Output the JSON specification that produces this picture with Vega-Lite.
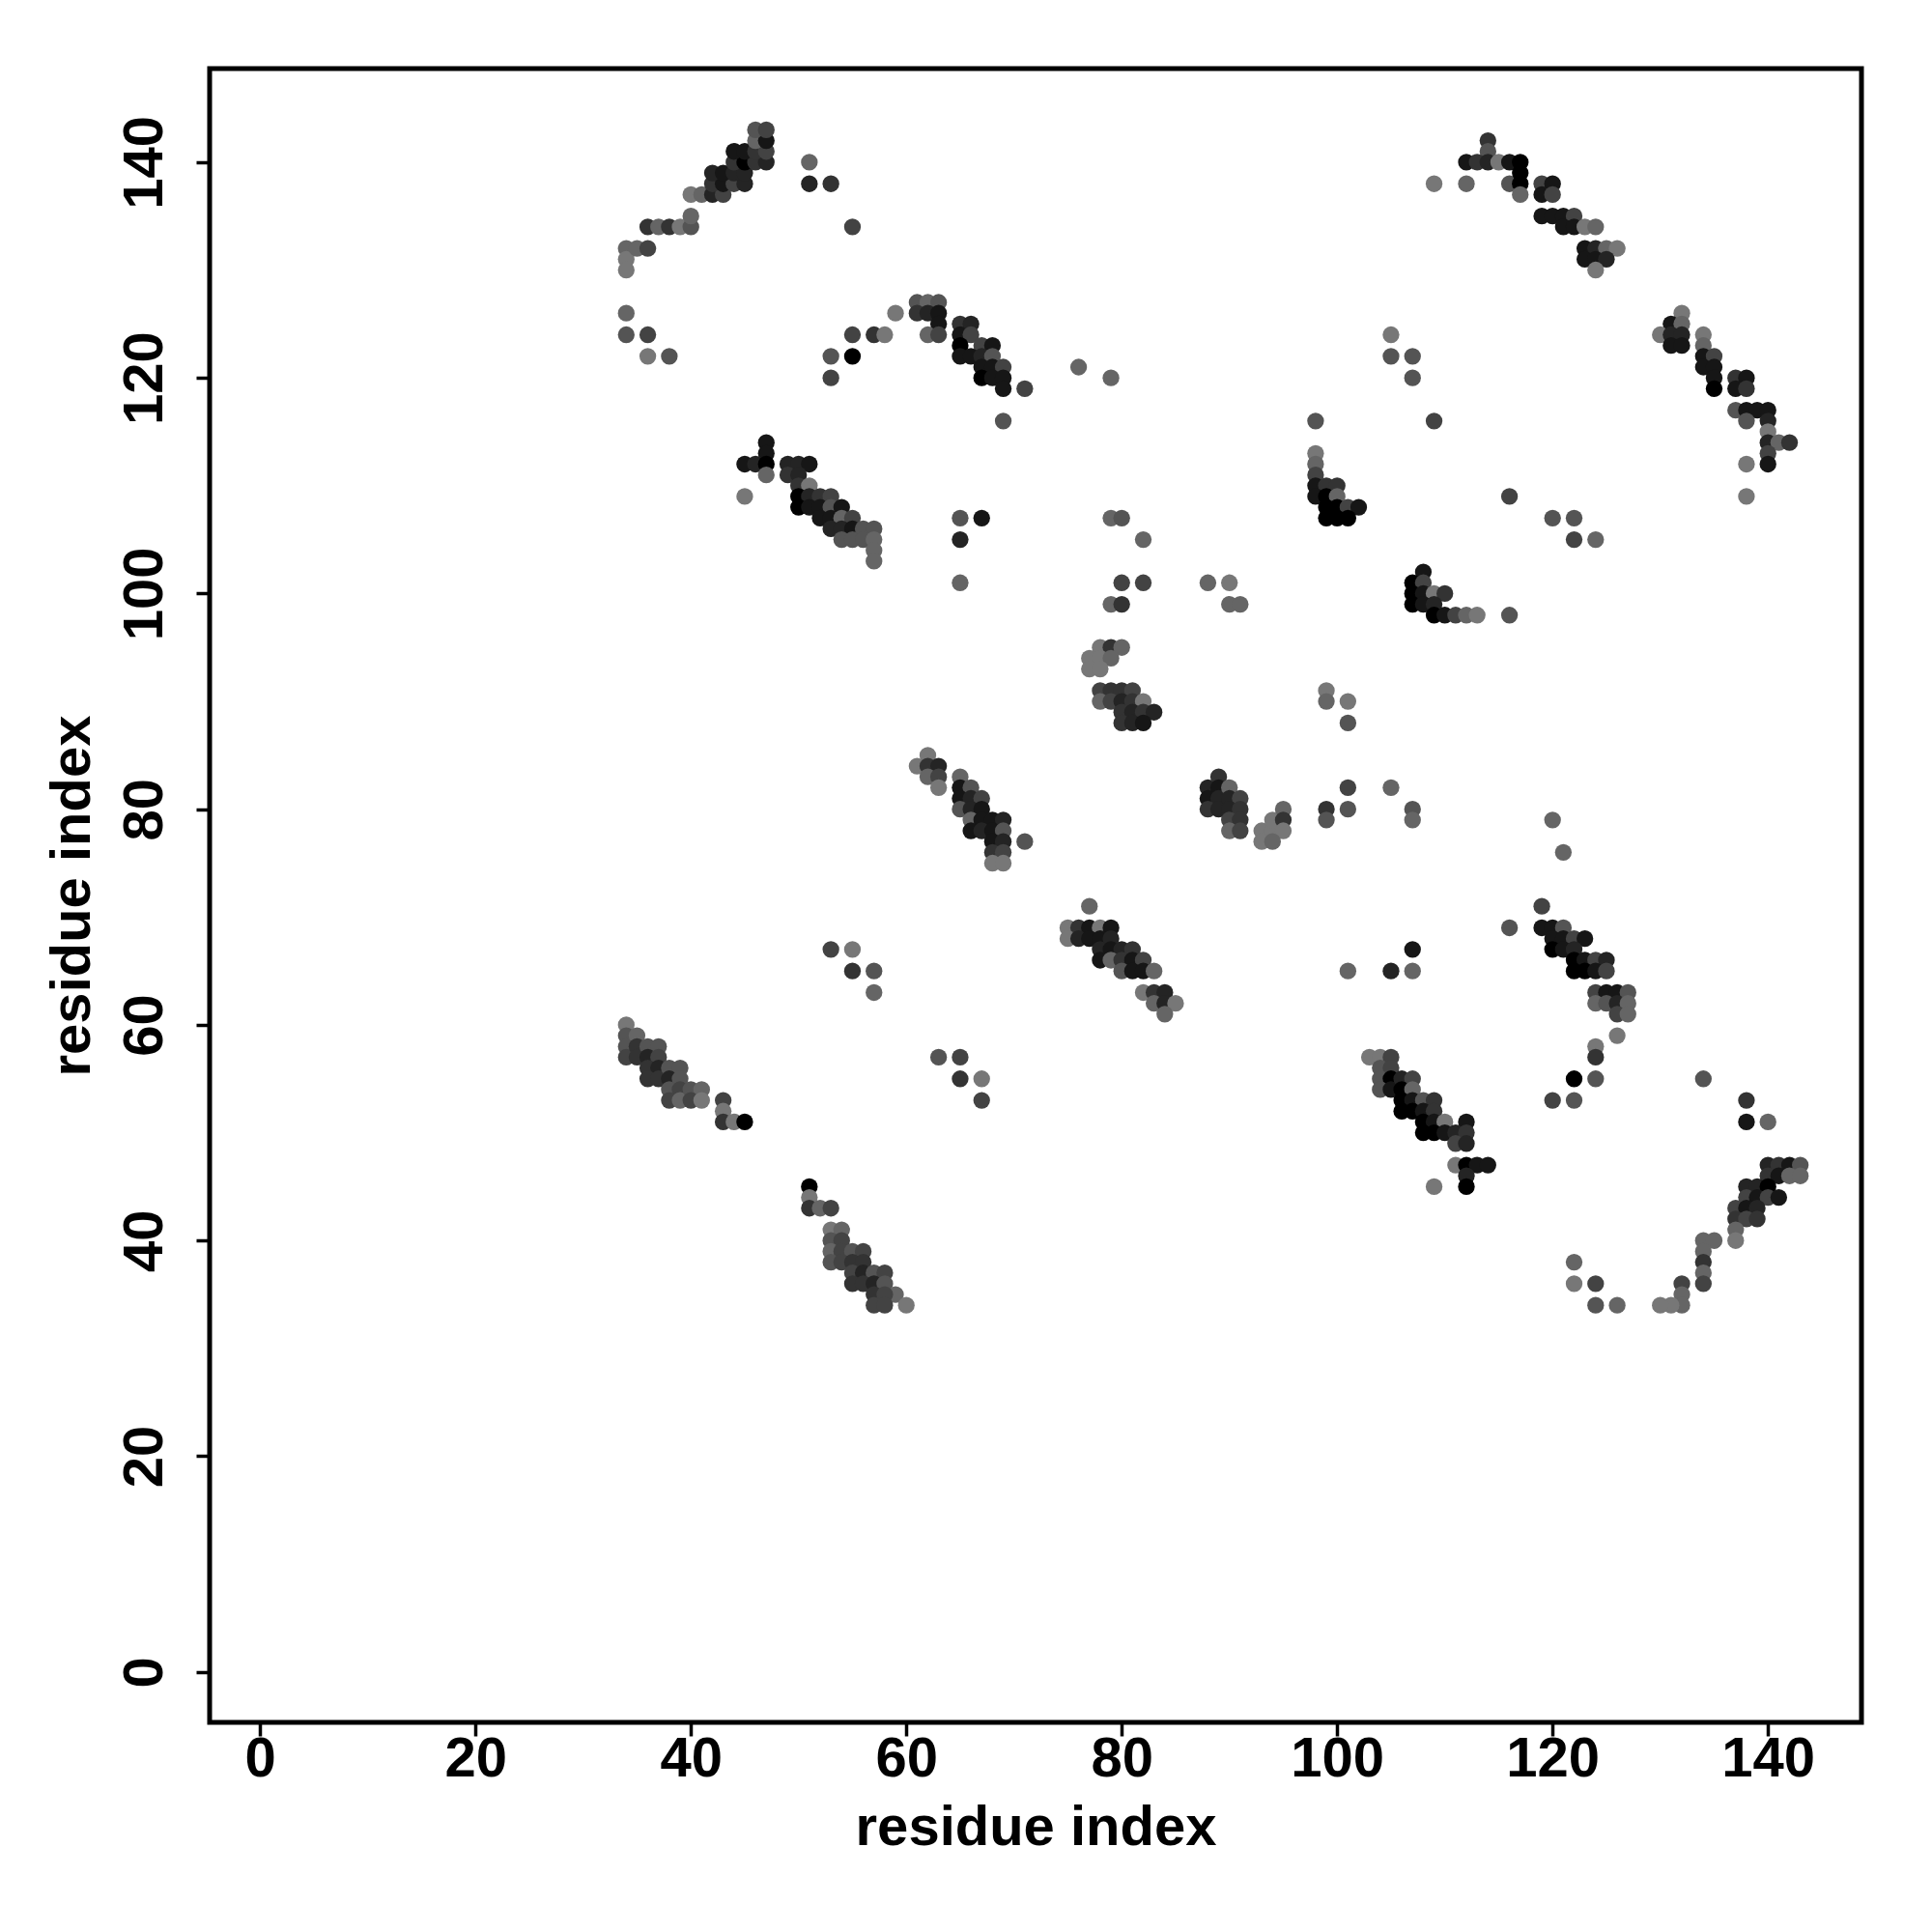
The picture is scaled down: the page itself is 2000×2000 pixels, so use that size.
{
"$schema": "https://vega.github.io/schema/vega-lite/v6.json",
"width": 1710, "height": 1712,
"autosize": "none",
"padding": {"left": 217, "top": 71, "right": 73, "bottom": 217},
"background": "white",
"config": {"view": {"stroke": "black", "strokeWidth": 5}},
"data": {"values": [
{"a":34,"b":132,"s":6},{"a":34,"b":131,"s":7},{"a":34,"b":130,"s":7},{"a":35,"b":132,"s":6},{"a":36,"b":132,"s":4},
{"a":36,"b":134,"s":3},{"a":37,"b":134,"s":6},{"a":38,"b":134,"s":3},{"a":39,"b":134,"s":7},{"a":40,"b":134,"s":5},{"a":40,"b":135,"s":6},
{"a":40,"b":137,"s":7},{"a":41,"b":137,"s":6},{"a":42,"b":137,"s":2},{"a":43,"b":137,"s":4},
{"a":42,"b":138,"s":3},{"a":43,"b":138,"s":1},{"a":44,"b":138,"s":4},{"a":45,"b":138,"s":2},
{"a":42,"b":139,"s":2},{"a":43,"b":139,"s":1},{"a":44,"b":139,"s":2},{"a":45,"b":139,"s":2},
{"a":44,"b":140,"s":3},{"a":45,"b":140,"s":0},{"a":46,"b":140,"s":3},{"a":47,"b":140,"s":2},
{"a":44,"b":141,"s":1},{"a":45,"b":141,"s":1},{"a":46,"b":141,"s":3},{"a":47,"b":141,"s":4},
{"a":46,"b":142,"s":6},{"a":47,"b":142,"s":1},{"a":46,"b":143,"s":5},{"a":47,"b":143,"s":4},
{"a":51,"b":140,"s":6},{"a":51,"b":138,"s":2},{"a":53,"b":138,"s":3},{"a":55,"b":134,"s":4},
{"a":34,"b":126,"s":6},{"a":34,"b":124,"s":5},{"a":36,"b":124,"s":4},{"a":36,"b":122,"s":7},{"a":38,"b":122,"s":5},
{"a":53,"b":122,"s":5},{"a":55,"b":122,"s":0},{"a":53,"b":120,"s":4},{"a":55,"b":124,"s":4},{"a":57,"b":124,"s":3},{"a":58,"b":124,"s":7},{"a":59,"b":126,"s":7},
{"a":61,"b":127,"s":5},{"a":62,"b":127,"s":6},{"a":63,"b":127,"s":5},{"a":61,"b":126,"s":3},{"a":62,"b":126,"s":2},{"a":63,"b":126,"s":1},{"a":63,"b":125,"s":1},{"a":62,"b":124,"s":6},{"a":63,"b":124,"s":4},
{"a":65,"b":125,"s":3},{"a":66,"b":125,"s":2},{"a":65,"b":124,"s":1},{"a":66,"b":124,"s":4},{"a":65,"b":123,"s":0},{"a":67,"b":123,"s":4},{"a":68,"b":123,"s":1},{"a":65,"b":122,"s":1},{"a":66,"b":122,"s":1},{"a":67,"b":122,"s":2},{"a":68,"b":122,"s":5},{"a":67,"b":121,"s":1},{"a":68,"b":121,"s":1},{"a":69,"b":121,"s":4},{"a":67,"b":120,"s":0},{"a":68,"b":120,"s":1},{"a":69,"b":120,"s":1},{"a":69,"b":119,"s":1},{"a":71,"b":119,"s":4},{"a":69,"b":116,"s":5},{"a":76,"b":121,"s":6},{"a":79,"b":120,"s":6},
{"a":47,"b":114,"s":1},{"a":47,"b":113,"s":1},{"a":45,"b":112,"s":1},{"a":46,"b":112,"s":2},{"a":47,"b":112,"s":0},{"a":47,"b":111,"s":6},{"a":45,"b":109,"s":7},
{"a":49,"b":112,"s":2},{"a":50,"b":112,"s":2},{"a":51,"b":112,"s":1},{"a":49,"b":111,"s":3},{"a":50,"b":111,"s":2},{"a":50,"b":110,"s":3},{"a":51,"b":110,"s":7},{"a":50,"b":109,"s":0},{"a":51,"b":109,"s":2},{"a":52,"b":109,"s":3},{"a":53,"b":109,"s":4},{"a":50,"b":108,"s":0},{"a":51,"b":108,"s":1},{"a":52,"b":108,"s":1},{"a":53,"b":108,"s":5},{"a":54,"b":108,"s":1},
{"a":52,"b":107,"s":1},{"a":53,"b":107,"s":1},{"a":54,"b":107,"s":6},{"a":55,"b":107,"s":4},{"a":53,"b":106,"s":2},{"a":54,"b":106,"s":2},{"a":55,"b":106,"s":1},{"a":56,"b":106,"s":5},{"a":57,"b":106,"s":5},{"a":54,"b":105,"s":5},{"a":55,"b":105,"s":5},{"a":56,"b":105,"s":5},{"a":57,"b":105,"s":6},{"a":57,"b":104,"s":6},{"a":57,"b":103,"s":6},
{"a":65,"b":107,"s":5},{"a":67,"b":107,"s":1},{"a":65,"b":105,"s":2},{"a":65,"b":101,"s":6},{"a":79,"b":107,"s":6},{"a":80,"b":107,"s":5},{"a":82,"b":105,"s":6},{"a":80,"b":101,"s":4},{"a":82,"b":101,"s":4},{"a":88,"b":101,"s":6},{"a":90,"b":101,"s":7},{"a":79,"b":99,"s":6},{"a":80,"b":99,"s":3},{"a":90,"b":99,"s":6},{"a":91,"b":99,"s":6},
{"a":78,"b":95,"s":7},{"a":79,"b":95,"s":3},{"a":80,"b":95,"s":6},{"a":77,"b":94,"s":7},{"a":78,"b":94,"s":7},{"a":79,"b":94,"s":6},{"a":77,"b":93,"s":7},{"a":78,"b":93,"s":7},
{"a":78,"b":91,"s":4},{"a":79,"b":91,"s":3},{"a":80,"b":91,"s":3},{"a":81,"b":91,"s":4},{"a":78,"b":90,"s":6},{"a":79,"b":90,"s":4},{"a":80,"b":90,"s":2},{"a":81,"b":90,"s":3},{"a":82,"b":90,"s":7},{"a":80,"b":89,"s":3},{"a":81,"b":89,"s":2},{"a":82,"b":89,"s":3},{"a":83,"b":89,"s":2},{"a":80,"b":88,"s":3},{"a":81,"b":88,"s":2},{"a":82,"b":88,"s":1},
{"a":62,"b":85,"s":7},{"a":61,"b":84,"s":7},{"a":62,"b":84,"s":3},{"a":63,"b":84,"s":2},{"a":62,"b":83,"s":6},{"a":63,"b":83,"s":4},{"a":63,"b":82,"s":7},
{"a":65,"b":83,"s":6},{"a":65,"b":82,"s":1},{"a":66,"b":82,"s":5},{"a":65,"b":81,"s":1},{"a":66,"b":81,"s":2},{"a":67,"b":81,"s":4},{"a":65,"b":80,"s":5},{"a":66,"b":80,"s":2},{"a":67,"b":80,"s":1},{"a":66,"b":79,"s":6},{"a":67,"b":79,"s":1},{"a":68,"b":79,"s":1},{"a":69,"b":79,"s":2},{"a":66,"b":78,"s":1},{"a":67,"b":78,"s":2},{"a":68,"b":78,"s":1},{"a":69,"b":78,"s":5},{"a":68,"b":77,"s":1},{"a":69,"b":77,"s":2},{"a":71,"b":77,"s":5},{"a":68,"b":76,"s":3},{"a":69,"b":76,"s":4},{"a":68,"b":75,"s":7},{"a":69,"b":75,"s":7},
{"a":88,"b":82,"s":2},{"a":89,"b":83,"s":3},{"a":89,"b":82,"s":1},{"a":88,"b":81,"s":1},{"a":89,"b":81,"s":2},{"a":88,"b":80,"s":3},{"a":89,"b":80,"s":2},{"a":90,"b":82,"s":6},{"a":90,"b":81,"s":2},{"a":91,"b":81,"s":4},{"a":90,"b":80,"s":2},{"a":91,"b":80,"s":3},{"a":90,"b":79,"s":4},{"a":91,"b":79,"s":3},{"a":90,"b":78,"s":6},{"a":91,"b":78,"s":4},{"a":93,"b":78,"s":7},{"a":94,"b":78,"s":7},{"a":94,"b":79,"s":7},{"a":95,"b":80,"s":6},{"a":95,"b":79,"s":3},{"a":95,"b":78,"s":7},{"a":93,"b":77,"s":7},{"a":94,"b":77,"s":6},
{"a":99,"b":91,"s":7},{"a":99,"b":90,"s":6},{"a":101,"b":90,"s":7},{"a":101,"b":88,"s":5},{"a":101,"b":82,"s":4},{"a":105,"b":82,"s":6},{"a":99,"b":80,"s":3},{"a":101,"b":80,"s":5},{"a":99,"b":79,"s":5},{"a":107,"b":80,"s":5},{"a":107,"b":79,"s":6},
{"a":98,"b":116,"s":5},{"a":98,"b":113,"s":7},{"a":98,"b":112,"s":6},{"a":98,"b":111,"s":4},{"a":98,"b":110,"s":1},{"a":99,"b":110,"s":3},{"a":100,"b":110,"s":3},{"a":98,"b":109,"s":1},{"a":99,"b":109,"s":0},{"a":100,"b":109,"s":6},{"a":99,"b":108,"s":0},{"a":100,"b":108,"s":0},{"a":101,"b":108,"s":4},{"a":102,"b":108,"s":1},{"a":99,"b":107,"s":0},{"a":100,"b":107,"s":0},{"a":101,"b":107,"s":0},
{"a":109,"b":116,"s":4},{"a":116,"b":109,"s":4},{"a":105,"b":124,"s":7},{"a":105,"b":122,"s":5},{"a":107,"b":122,"s":5},{"a":107,"b":120,"s":5},
{"a":108,"b":102,"s":1},{"a":107,"b":101,"s":0},{"a":108,"b":101,"s":4},{"a":107,"b":100,"s":0},{"a":108,"b":100,"s":1},{"a":109,"b":100,"s":7},{"a":110,"b":100,"s":3},{"a":107,"b":99,"s":0},{"a":108,"b":99,"s":1},{"a":109,"b":99,"s":2},{"a":109,"b":98,"s":0},{"a":110,"b":98,"s":1},{"a":111,"b":98,"s":4},{"a":112,"b":98,"s":6},{"a":113,"b":98,"s":7},{"a":116,"b":98,"s":5},
{"a":114,"b":142,"s":3},{"a":114,"b":141,"s":5},{"a":112,"b":140,"s":1},{"a":113,"b":140,"s":3},{"a":114,"b":140,"s":2},{"a":115,"b":140,"s":7},{"a":116,"b":140,"s":1},{"a":117,"b":140,"s":0},{"a":109,"b":138,"s":7},{"a":112,"b":138,"s":6},{"a":116,"b":138,"s":5},{"a":117,"b":138,"s":0},{"a":117,"b":139,"s":0},{"a":117,"b":137,"s":6},{"a":119,"b":138,"s":4},{"a":120,"b":138,"s":1},{"a":119,"b":137,"s":1},{"a":120,"b":137,"s":4},{"a":119,"b":135,"s":1},{"a":120,"b":135,"s":1},{"a":121,"b":135,"s":1},{"a":122,"b":135,"s":4},{"a":121,"b":134,"s":1},{"a":122,"b":134,"s":1},{"a":123,"b":134,"s":7},{"a":124,"b":134,"s":6},{"a":123,"b":132,"s":1},{"a":124,"b":132,"s":2},{"a":125,"b":132,"s":6},{"a":126,"b":132,"s":7},{"a":123,"b":131,"s":1},{"a":124,"b":131,"s":1},{"a":125,"b":131,"s":2},{"a":124,"b":130,"s":7},
{"a":120,"b":107,"s":5},{"a":122,"b":107,"s":5},{"a":122,"b":105,"s":4},{"a":124,"b":105,"s":6},
{"a":132,"b":126,"s":7},{"a":131,"b":125,"s":1},{"a":132,"b":125,"s":6},{"a":130,"b":124,"s":7},{"a":131,"b":124,"s":2},{"a":132,"b":124,"s":2},{"a":131,"b":123,"s":1},{"a":132,"b":123,"s":1},{"a":134,"b":124,"s":7},{"a":134,"b":123,"s":6},{"a":134,"b":122,"s":1},{"a":135,"b":122,"s":4},{"a":134,"b":121,"s":1},{"a":135,"b":121,"s":1},{"a":135,"b":120,"s":1},{"a":135,"b":119,"s":0},{"a":137,"b":120,"s":3},{"a":138,"b":120,"s":1},{"a":137,"b":119,"s":1},{"a":138,"b":119,"s":3},{"a":137,"b":117,"s":5},{"a":138,"b":117,"s":1},{"a":139,"b":117,"s":1},{"a":140,"b":117,"s":1},{"a":138,"b":116,"s":5},{"a":140,"b":116,"s":2},{"a":140,"b":115,"s":7},{"a":140,"b":114,"s":2},{"a":141,"b":114,"s":6},{"a":142,"b":114,"s":3},{"a":140,"b":113,"s":4},{"a":140,"b":112,"s":1},{"a":138,"b":112,"s":7},{"a":138,"b":109,"s":7},
{"a":77,"b":71,"s":6},{"a":75,"b":69,"s":7},{"a":76,"b":69,"s":3},{"a":77,"b":69,"s":1},{"a":78,"b":69,"s":7},{"a":79,"b":69,"s":1},{"a":75,"b":68,"s":7},{"a":76,"b":68,"s":2},{"a":77,"b":68,"s":1},{"a":78,"b":68,"s":1},{"a":79,"b":68,"s":2},{"a":78,"b":67,"s":2},{"a":79,"b":67,"s":1},{"a":80,"b":67,"s":2},{"a":81,"b":67,"s":3},{"a":78,"b":66,"s":1},{"a":79,"b":66,"s":6},{"a":80,"b":66,"s":3},{"a":81,"b":66,"s":1},{"a":82,"b":66,"s":4},{"a":80,"b":65,"s":5},{"a":81,"b":65,"s":1},{"a":82,"b":65,"s":1},{"a":83,"b":65,"s":6},{"a":82,"b":63,"s":7},{"a":83,"b":63,"s":3},{"a":84,"b":63,"s":2},{"a":83,"b":62,"s":6},{"a":84,"b":62,"s":2},{"a":85,"b":62,"s":7},{"a":84,"b":61,"s":6},
{"a":53,"b":67,"s":4},{"a":55,"b":67,"s":7},{"a":55,"b":65,"s":3},{"a":57,"b":65,"s":5},{"a":57,"b":63,"s":6},{"a":63,"b":57,"s":5},{"a":65,"b":57,"s":4},{"a":65,"b":55,"s":3},{"a":67,"b":55,"s":7},{"a":67,"b":53,"s":4},
{"a":116,"b":69,"s":5},{"a":107,"b":67,"s":1},{"a":101,"b":65,"s":6},{"a":105,"b":65,"s":2},{"a":107,"b":65,"s":6},{"a":119,"b":71,"s":4},{"a":120,"b":79,"s":6},{"a":121,"b":76,"s":6},
{"a":34,"b":60,"s":7},{"a":34,"b":59,"s":5},{"a":34,"b":58,"s":5},{"a":34,"b":57,"s":4},{"a":35,"b":59,"s":6},{"a":35,"b":58,"s":3},{"a":35,"b":57,"s":3},{"a":36,"b":58,"s":5},{"a":37,"b":58,"s":5},{"a":36,"b":57,"s":2},{"a":37,"b":57,"s":4},{"a":36,"b":56,"s":3},{"a":37,"b":56,"s":2},{"a":36,"b":55,"s":3},{"a":37,"b":55,"s":3},{"a":38,"b":56,"s":5},{"a":39,"b":56,"s":5},{"a":38,"b":55,"s":2},{"a":39,"b":55,"s":5},{"a":38,"b":54,"s":5},{"a":39,"b":54,"s":4},{"a":38,"b":53,"s":4},{"a":39,"b":53,"s":6},{"a":40,"b":54,"s":5},{"a":41,"b":54,"s":6},{"a":40,"b":53,"s":4},{"a":41,"b":53,"s":7},{"a":43,"b":53,"s":4},{"a":43,"b":52,"s":7},{"a":43,"b":51,"s":3},{"a":44,"b":51,"s":7},{"a":45,"b":51,"s":0},
{"a":51,"b":45,"s":0},{"a":51,"b":44,"s":7},{"a":51,"b":43,"s":3},{"a":52,"b":43,"s":6},{"a":53,"b":43,"s":4},{"a":53,"b":41,"s":7},{"a":54,"b":41,"s":6},{"a":53,"b":40,"s":5},{"a":54,"b":40,"s":4},{"a":53,"b":39,"s":6},{"a":54,"b":39,"s":4},{"a":55,"b":39,"s":5},{"a":56,"b":39,"s":4},{"a":53,"b":38,"s":5},{"a":54,"b":38,"s":4},{"a":55,"b":38,"s":3},{"a":56,"b":38,"s":3},{"a":55,"b":37,"s":4},{"a":56,"b":37,"s":2},{"a":57,"b":37,"s":5},{"a":58,"b":37,"s":4},{"a":55,"b":36,"s":3},{"a":56,"b":36,"s":3},{"a":57,"b":36,"s":2},{"a":58,"b":36,"s":5},{"a":59,"b":35,"s":6},{"a":57,"b":35,"s":3},{"a":58,"b":35,"s":4},{"a":57,"b":34,"s":4},{"a":58,"b":34,"s":4},{"a":60,"b":34,"s":7},
{"a":103,"b":57,"s":7},{"a":104,"b":57,"s":7},{"a":105,"b":57,"s":4},{"a":104,"b":56,"s":5},{"a":105,"b":56,"s":4},{"a":104,"b":55,"s":5},{"a":105,"b":55,"s":0},{"a":104,"b":54,"s":5},{"a":105,"b":54,"s":1},{"a":106,"b":55,"s":2},{"a":107,"b":55,"s":4},{"a":106,"b":54,"s":0},{"a":107,"b":54,"s":6},{"a":106,"b":53,"s":0},{"a":107,"b":53,"s":1},{"a":108,"b":53,"s":5},{"a":109,"b":53,"s":3},{"a":106,"b":52,"s":0},{"a":107,"b":52,"s":0},{"a":108,"b":52,"s":1},{"a":109,"b":52,"s":3},{"a":108,"b":51,"s":0},{"a":109,"b":51,"s":1},{"a":110,"b":51,"s":7},{"a":112,"b":51,"s":1},{"a":108,"b":50,"s":0},{"a":109,"b":50,"s":0},{"a":110,"b":50,"s":1},{"a":111,"b":50,"s":2},{"a":112,"b":50,"s":3},{"a":111,"b":49,"s":4},{"a":112,"b":49,"s":2},{"a":111,"b":47,"s":7},{"a":112,"b":47,"s":0},{"a":113,"b":47,"s":1},{"a":114,"b":47,"s":1},{"a":112,"b":46,"s":2},{"a":112,"b":45,"s":0},{"a":109,"b":45,"s":7},
{"a":119,"b":69,"s":1},{"a":120,"b":69,"s":1},{"a":121,"b":69,"s":5},{"a":120,"b":68,"s":1},{"a":121,"b":68,"s":1},{"a":122,"b":68,"s":4},{"a":123,"b":68,"s":1},{"a":120,"b":67,"s":0},{"a":121,"b":67,"s":1},{"a":122,"b":67,"s":2},{"a":122,"b":66,"s":0},{"a":123,"b":66,"s":1},{"a":124,"b":66,"s":4},{"a":125,"b":66,"s":2},{"a":122,"b":65,"s":0},{"a":123,"b":65,"s":0},{"a":124,"b":65,"s":1},{"a":125,"b":65,"s":4},{"a":124,"b":63,"s":4},{"a":125,"b":63,"s":1},{"a":126,"b":63,"s":1},{"a":127,"b":63,"s":5},{"a":124,"b":62,"s":6},{"a":125,"b":62,"s":5},{"a":126,"b":62,"s":2},{"a":127,"b":62,"s":6},{"a":126,"b":61,"s":4},{"a":127,"b":61,"s":6},{"a":126,"b":59,"s":7},{"a":124,"b":58,"s":7},{"a":124,"b":57,"s":3},{"a":122,"b":55,"s":0},{"a":124,"b":55,"s":5},{"a":120,"b":53,"s":4},{"a":122,"b":53,"s":5},
{"a":134,"b":55,"s":5},{"a":138,"b":53,"s":3},{"a":138,"b":51,"s":1},{"a":140,"b":51,"s":6},
{"a":140,"b":47,"s":2},{"a":141,"b":47,"s":3},{"a":142,"b":47,"s":1},{"a":143,"b":47,"s":5},{"a":140,"b":46,"s":3},{"a":141,"b":46,"s":1},{"a":142,"b":46,"s":6},{"a":143,"b":46,"s":6},{"a":138,"b":45,"s":2},{"a":139,"b":45,"s":2},{"a":140,"b":45,"s":0},{"a":138,"b":44,"s":4},{"a":139,"b":44,"s":1},{"a":140,"b":44,"s":4},{"a":141,"b":44,"s":1},{"a":137,"b":43,"s":4},{"a":138,"b":43,"s":1},{"a":139,"b":43,"s":2},{"a":137,"b":42,"s":3},{"a":138,"b":42,"s":4},{"a":139,"b":42,"s":3},{"a":137,"b":41,"s":6},{"a":137,"b":40,"s":7},{"a":134,"b":40,"s":6},{"a":135,"b":40,"s":6},{"a":134,"b":39,"s":6},{"a":134,"b":38,"s":3},{"a":134,"b":37,"s":6},{"a":134,"b":36,"s":4},{"a":132,"b":36,"s":4},{"a":132,"b":35,"s":6},{"a":132,"b":34,"s":6},{"a":131,"b":34,"s":7},{"a":130,"b":34,"s":7},
{"a":122,"b":38,"s":6},{"a":122,"b":36,"s":7},{"a":124,"b":36,"s":4},{"a":124,"b":34,"s":5},{"a":126,"b":34,"s":6}
]},
"mark": {"type": "circle", "size": 300, "opacity": 1, "strokeWidth": 0},
"encoding": {
  "x": {"field": "a", "type": "quantitative",
        "scale": {"domain": [-4.68, 148.68], "nice": false, "zero": false},
        "axis": {"title": "residue index", "values": [0,20,40,60,80,100,120,140], "grid": false, "domain": false,
                 "ticks": true, "tickColor": "black", "tickWidth": 3.5, "tickSize": 14,
                 "labelFont": "Liberation Sans", "labelFontWeight": "bold", "labelFontSize": 58, "labelColor": "black",
                 "labelBaseline": "alphabetic", "labelPadding": 41, "labelFlush": false,
                 "titleFont": "Liberation Sans", "titleFontWeight": "bold", "titleFontSize": 58, "titleColor": "black",
                 "titleBaseline": "alphabetic", "titleY": 126}},
  "y": {"field": "b", "type": "quantitative",
        "scale": {"domain": [-4.68, 148.68], "nice": false, "zero": false},
        "axis": {"title": "residue index", "values": [0,20,40,60,80,100,120,140], "grid": false, "domain": false,
                 "ticks": true, "tickColor": "black", "tickWidth": 3.5, "tickSize": 14,
                 "labelFont": "Liberation Sans", "labelFontWeight": "bold", "labelFontSize": 58, "labelColor": "black",
                 "labelAngle": -90, "labelAlign": "center", "labelBaseline": "alphabetic", "labelPadding": 36, "labelFlush": false,
                 "titleFont": "Liberation Sans", "titleFontWeight": "bold", "titleFontSize": 58, "titleColor": "black",
                 "titleAngle": -90, "titleBaseline": "alphabetic", "titleX": -125}},
  "color": {"field": "s", "type": "quantitative", "scale": {"domain": [0, 7], "range": ["#000000", "#777777"]}, "legend": null}
}
}
